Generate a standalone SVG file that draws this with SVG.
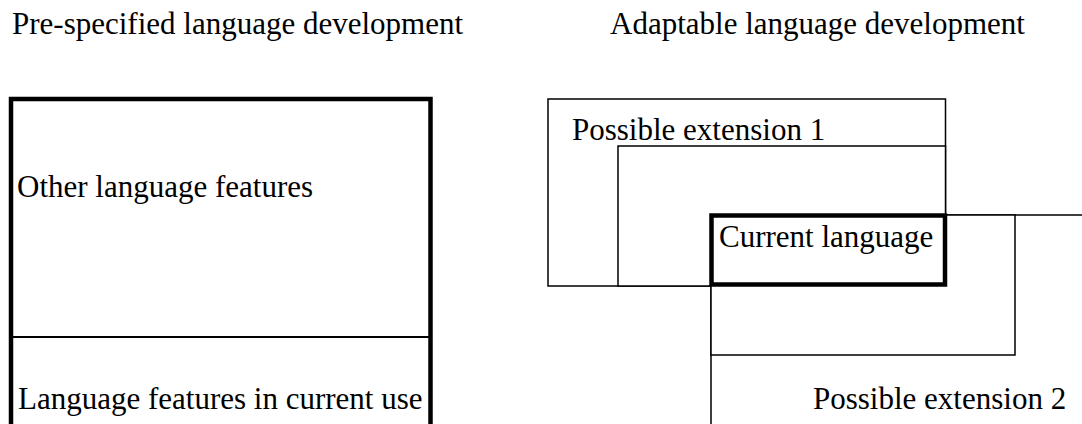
<svg xmlns="http://www.w3.org/2000/svg" width="1082" height="424" viewBox="0 0 1082 424" font-family="'Liberation Serif', 'Times New Roman', Times, serif">
<style>
text { font-family: "Liberation Serif", "Times New Roman", Times, serif; font-size: 31px; fill: #000; }
.thin { fill: #fff; stroke: #000; stroke-width: 1.5; }
.thick { fill: #fff; stroke: #000; stroke-width: 4.5; }
</style>
<rect x="0" y="0" width="1082" height="424" fill="#fff"/>
<g id="title-left"><text x="12" y="34">Pre-specified language development</text></g>
<g id="title-right"><text x="610" y="34">Adaptable language development</text></g>
<g id="prespecified">
  <rect class="thick" x="11" y="99" width="419.5" height="345"/>
  <line x1="11" y1="337" x2="430.5" y2="337" stroke="#000" stroke-width="2"/>
  <text x="17" y="197">Other language features</text>
  <text x="18" y="409">Language features in current use</text>
</g>
<g id="extension1">
  <rect class="thin" x="548" y="99" width="397.5" height="187"/>
  <text x="572" y="140">Possible extension 1</text>
</g>
<g id="intermediate1">
  <rect class="thin" x="618" y="146" width="327.5" height="140"/>
</g>
<g id="extension2">
  <rect class="thin" x="711" y="215" width="400" height="240"/>
  <text x="813" y="409">Possible extension 2</text>
</g>
<g id="intermediate2">
  <rect class="thin" x="711" y="215" width="304" height="140"/>
</g>
<g id="current">
  <rect class="thick" x="711.5" y="215.5" width="233.5" height="69"/>
  <text x="719" y="247">Current language</text>
</g>
<g id="connectors"></g>
</svg>
